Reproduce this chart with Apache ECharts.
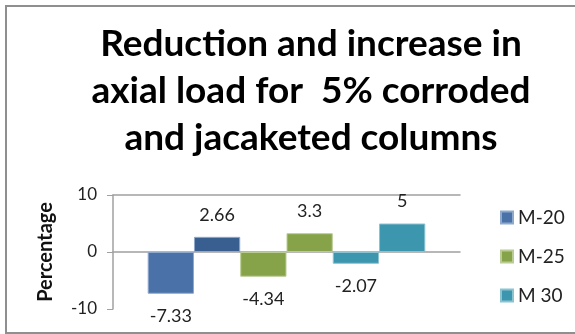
<!DOCTYPE html>
<html>
<head>
<meta charset="utf-8">
<script src="https://cdn.jsdelivr.net/npm/echarts@6/dist/echarts.min.js"></script>
<style>
  html, body { margin: 0; padding: 0; background: #fff; }
  #chart { width: 575px; height: 334px; }
</style>
</head>
<body>
<div id="chart"></div>
<script>
// Mixes and the percentage change in axial load (corroded vs. jacketed)
const mixNames = ['M-20', 'M-25', 'M 30'];
const reduction = [-7.33, -4.34, -2.07];
const increase = [2.66, 3.3, 5];
const yTicks = { min: -10, max: 10, step: 10 };

const fillColors = ['#4A72A8', '#87A34A', '#3C97AE'];
const increaseColors = ['#385F90', '#87A34A', '#3C97AE'];
const edgeColors = ['#8FA9CC', '#B9CC93', '#8CC3D1'];
const FONT = 'Lato';

// Two bars per mix: reduction (negative) then increase (positive), side by side
const series = [];
mixNames.forEach((name, i) => {
  [[reduction[i], 'bottom', fillColors[i]], [increase[i], 'top', increaseColors[i]]].forEach(([v, pos, col]) => {
    series.push({
      name: name,
      type: 'bar',
      data: [v],
      barGap: '0%',
      barCategoryGap: '20%',
      itemStyle: { color: col, borderColor: edgeColors[i], borderWidth: 1 },
      label: {
        show: true,
        position: pos,
        distance: 13,
        formatter: p => String(p.value),
        fontFamily: FONT,
        fontSize: 18,
        color: '#222'
      }
    });
  });
});

const chart = echarts.init(document.getElementById('chart'), null, { renderer: 'canvas' });
chart.setOption({
  animation: false,
  backgroundColor: '#fff',
  title: {
    text: 'Reduction and increase in\naxial load for  5% corroded\nand jacaketed columns',
    left: 306,
    top: 16,
    textAlign: 'center',
    textStyle: {
      fontFamily: FONT,
      fontWeight: 'bold',
      fontSize: 37,
      lineHeight: 47,
      color: '#000'
    }
  },
  graphic: [{
    type: 'rect',
    shape: { x: 6, y: 6, width: 600, height: 327 },
    style: { fill: 'none', stroke: '#8f8f8f', lineWidth: 2 },
    silent: true
  }],
  legend: {
    orient: 'vertical',
    left: 495,
    top: 203,
    data: mixNames,
    itemWidth: 12,
    itemHeight: 12,
    itemGap: 20,
    icon: 'rect',
    textStyle: { fontFamily: FONT, fontSize: 19, color: '#222' }
  },
  grid: { left: 113, right: 115, top: 195, bottom: 25 },
  xAxis: [{
    type: 'category',
    data: [''],
    axisLine: { onZero: true, lineStyle: { color: '#a0a0a0', width: 1.5 } },
    axisTick: { show: false },
    axisLabel: { show: false }
  }, {
    type: 'category',
    position: 'top',
    data: [''],
    axisLine: { onZero: false, lineStyle: { color: '#a0a0a0', width: 1.5 } },
    axisTick: { show: false },
    axisLabel: { show: false }
  }],
  yAxis: {
    type: 'value',
    min: yTicks.min,
    max: yTicks.max,
    interval: yTicks.step,
    name: 'Percentage',
    nameLocation: 'middle',
    nameRotate: 90,
    nameGap: 57,
    nameTextStyle: { fontFamily: FONT, fontWeight: 'bold', fontSize: 20, color: '#111' },
    axisLine: { show: true, lineStyle: { color: '#a0a0a0', width: 1.5 } },
    axisTick: { show: true, length: 6, lineStyle: { color: '#a0a0a0' } },
    axisLabel: { fontFamily: FONT, fontSize: 17, color: '#222', margin: 16 },
    splitLine: { show: false }
  },
  series: series
});
</script>
</body>
</html>
